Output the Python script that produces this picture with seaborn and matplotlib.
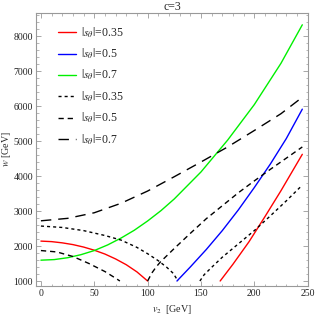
import numpy as np
import pandas as pd
import matplotlib
matplotlib.use('Agg')
import matplotlib.pyplot as plt
from matplotlib.ticker import MultipleLocator
from matplotlib.lines import Line2D
import seaborn as sns

sns.set_theme(style='ticks')
plt.rcParams['font.family'] = ['Liberation Serif', 'DejaVu Serif']
plt.rcParams['mathtext.fontset'] = 'stix'
plt.rcParams['lines.scale_dashes'] = False

# values (v2 in GeV, w in GeV)
red_left_v = [0, 10, 20, 30, 40, 50, 60, 70, 80, 90, 100]
red_left_w = [2140, 2125, 2090, 2040, 1970, 1880, 1770, 1630, 1465, 1260, 1000]
red_right_v = [168, 180, 195, 210, 225, 245]
red_right_w = [1000, 1480, 2120, 2840, 3580, 4620]

blue_v = [127.5, 140, 155, 170, 185, 200, 215, 230, 245]
blue_w = [1000, 1400, 1900, 2440, 3030, 3670, 4340, 5070, 5910]

green_v = [0, 12.5, 25, 37.5, 50, 62.5, 75, 87.5, 100, 112.5, 125, 150, 175, 200, 225, 245]
green_w = [1595, 1612, 1665, 1752, 1870, 2030, 2225, 2450, 2715, 3010, 3345, 4115, 5025, 6040, 7220, 8320]

dot_left_v = [0, 20, 40, 60, 75, 90, 100, 110, 118, 124, 128.5]
dot_left_w = [2570, 2530, 2440, 2300, 2170, 1960, 1780, 1580, 1390, 1220, 1000]
dot_right_v = [149, 153, 160, 170, 185, 200, 215, 230, 245]
dot_right_w = [1000, 1180, 1390, 1680, 2060, 2440, 2860, 3290, 3740]

dash_left_v = [0, 15, 30, 45, 60, 70, 74]
dash_left_w = [1870, 1830, 1700, 1500, 1270, 1080, 1000]
dash_right_v = [100, 104, 108, 112, 125, 140, 155, 170, 185, 200, 215, 230, 245]
dash_right_w = [1000, 1230, 1400, 1545, 1930, 2360, 2780, 3150, 3520, 3860, 4190, 4510, 4830]

long_v = [0, 25, 50, 75, 100, 125, 150, 175, 200, 225, 245]
long_w = [2720, 2790, 2950, 3220, 3570, 3980, 4400, 4830, 5300, 5780, 6250]

labels = [r'$|s_{\theta}|$=0.35', r'$|s_{\theta}|$=0.5', r'$|s_{\theta}|$=0.7',
          r'$|s_{\theta}|$=0.35', r'$|s_{\theta}|$=0.5', r'$|s_{\theta}|$=0.7']

ls_solid = '-'
ls_dot = (0, (2.2, 2.2))
ls_dash = (0, (3.8, 2.8))
ls_long = (0, (7.5, 5))
green = '#00f000'

curves = [
    (red_left_v, red_left_w, 'red', ls_solid),
    (red_right_v, red_right_w, 'red', ls_solid),
    (blue_v, blue_w, 'blue', ls_solid),
    (green_v, green_w, green, ls_solid),
    (dot_left_v, dot_left_w, 'black', ls_dot),
    (dot_right_v, dot_right_w, 'black', ls_dot),
    (dash_left_v, dash_left_w, 'black', ls_dash),
    (dash_right_v, dash_right_w, 'black', ls_dash),
    (long_v, long_w, 'black', ls_long),
]

fig = plt.figure(figsize=(3.15, 3.18), dpi=100)
ax = fig.add_axes([0.114, 0.1006, 0.864, 0.8585])

for v, w, col, ls in curves:
    df = pd.DataFrame({'v': v, 'w': w})
    sns.lineplot(data=df, x='v', y='w', ax=ax, color=col, linewidth=1.0,
                 linestyle=ls, sort=False, estimator=None)

ax.set_xlim(-4.7, 250.4)
ax.set_ylim(857, 8657)
ax.xaxis.set_major_locator(MultipleLocator(50))
ax.xaxis.set_minor_locator(MultipleLocator(10))
ax.yaxis.set_major_locator(MultipleLocator(1000))
ax.yaxis.set_minor_locator(MultipleLocator(200))
ax.tick_params(which='both', direction='in', top=True, right=True,
               color='#999999', labelsize=7, labelcolor='#222222', pad=2)
ax.tick_params(which='major', length=3.5, width=0.6)
ax.tick_params(which='minor', length=1.8, width=0.5)
for s in ax.spines.values():
    s.set_color('#999999')
    s.set_linewidth(0.8)

ax.set_xlabel(r'$v_2$  [GeV]', fontsize=7.2, labelpad=4)
ax.set_ylabel(r'$w$ [GeV]', fontsize=7.2)
ax.yaxis.set_label_coords(-0.083, 0.5)
ax.set_title('c=3', fontsize=8.5, pad=2)

styles = [('red', ls_solid), ('blue', ls_solid), (green, ls_solid),
          ('black', ls_dot), ('black', ls_dash), ('black', ls_long)]
handles = [Line2D([], [], color=c, linestyle=l, linewidth=1.0) for c, l in styles]
ax.legend(handles, labels, loc='upper left', bbox_to_anchor=(0.08, 0.955),
          frameon=False, fontsize=8.5, handlelength=1.55, handletextpad=0.4,
          labelspacing=0.58, borderpad=0, borderaxespad=0)

fig.savefig('out.png', dpi=100)
